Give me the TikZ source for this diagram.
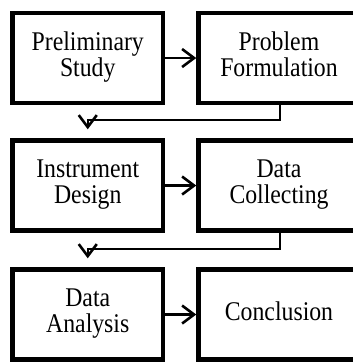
\documentclass[tikz,border=0pt]{standalone}
\usepackage{fontspec}
\setmainfont{Liberation Serif}
\usetikzlibrary{arrows.meta}
\newcommand{\boxtext}[1]{\scalebox{0.88}[1]{\begin{tabular}{@{}c@{}}#1\end{tabular}}}
\begin{document}
\begin{tikzpicture}[x=1pt,y=-1pt,
  box/.style={draw, line width=4.5pt, minimum height=90pt, inner sep=0pt,
    align=center, font=\fontsize{27}{25}\selectfont},
  lbox/.style={box, minimum width=150.5pt},
  rbox/.style={box, minimum width=161pt},
  conn/.style={line width=2.2pt, -{Straight Barb[length=12pt,width=18pt,line width=2.6pt]}}]
\useasboundingbox (0,0) rectangle (353,362);
\node[lbox] (ps) at (87.75,58) {\boxtext{Preliminary\\Study}};
\node[rbox] (pf) at (279,58) {\boxtext{Problem\\Formulation}};
\node[lbox] (id) at (87.75,185.5) {\boxtext{Instrument\\Design}};
\node[rbox] (dc) at (279,185.5) {\boxtext{Data\\Collecting}};
\node[lbox] (da) at (87.75,314.5) {\boxtext{Data\\Analysis}};
\node[rbox] (co) at (279,314.5) {\boxtext{Conclusion}};
\draw[conn] (ps.east) -- (pf.west);
\draw[conn] (id.east) -- (dc.west);
\draw[conn] (da.east) -- (co.west);
\coordinate (k1) at (280,120);
\coordinate (k2) at (280,249);
\draw[conn, shorten >=9pt] (pf.south -| k1) -- (k1) -| (id.north);
\draw[conn, shorten >=9pt] (dc.south -| k2) -- (k2) -| (da.north);
\end{tikzpicture}
\end{document}
